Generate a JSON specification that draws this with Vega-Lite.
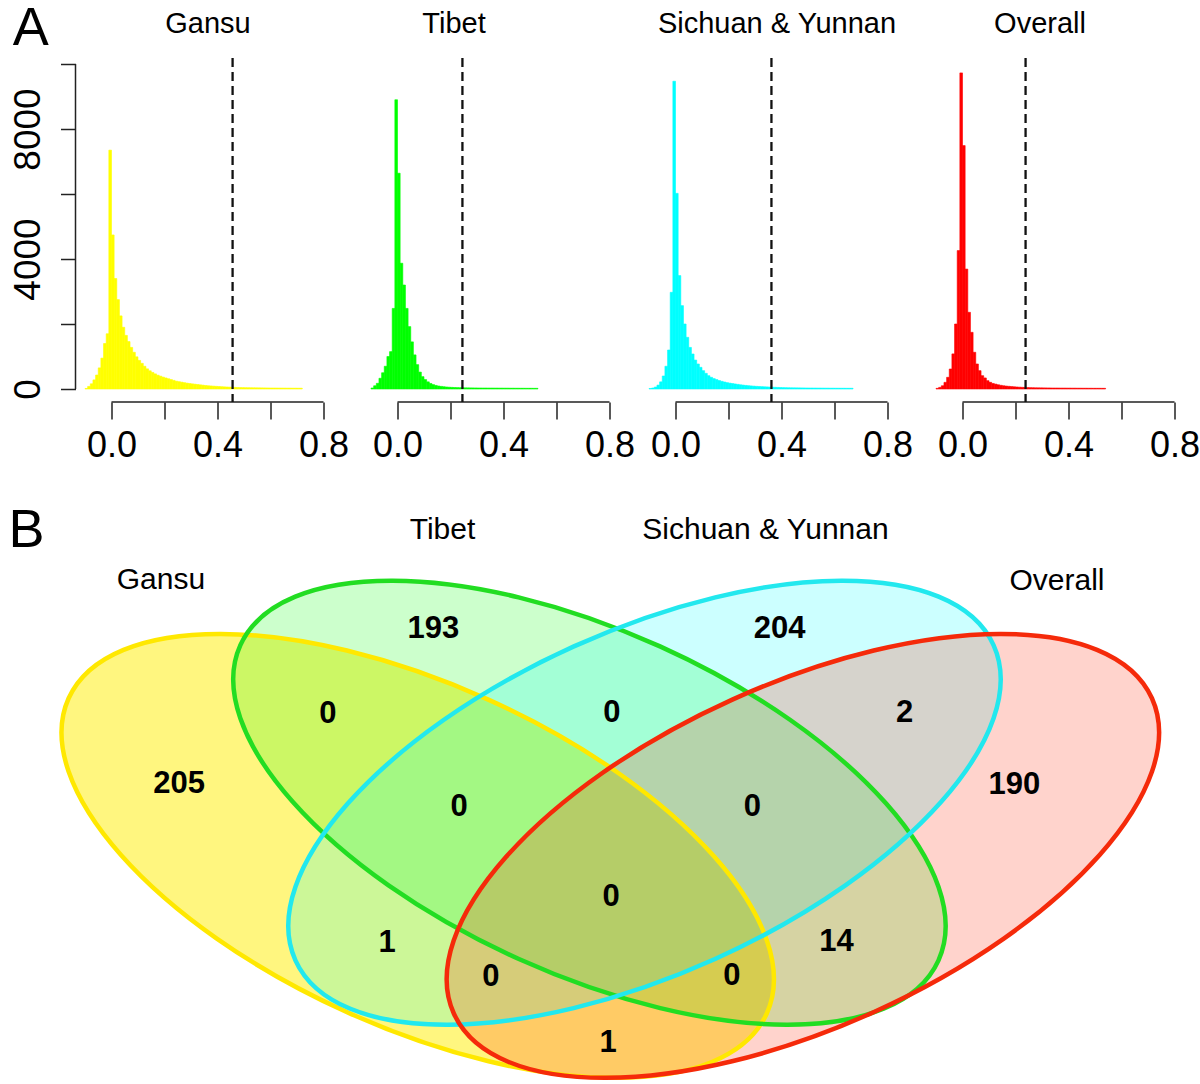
{
  "$schema": "https://vega.github.io/schema/vega-lite/v6.json",
  "padding": {"left": 7.5, "top": 1, "right": 0, "bottom": 0},
  "config": {"view": {"stroke": null}, "font": "Liberation Sans"},
  "datasets": {
    "gansu": [
      {"x0":-0.10,"x1":-0.09,"count":15},{"x0":-0.09,"x1":-0.08,"count":80},{"x0":-0.08,"x1":-0.07,"count":160},{"x0":-0.07,"x1":-0.06,"count":280},{"x0":-0.06,"x1":-0.05,"count":430},
      {"x0":-0.05,"x1":-0.04,"count":650},{"x0":-0.04,"x1":-0.03,"count":950},{"x0":-0.03,"x1":-0.02,"count":1400},{"x0":-0.02,"x1":-0.01,"count":1700},{"x0":-0.01,"x1":0,"count":7350},
      {"x0":0,"x1":0.01,"count":4740},{"x0":0.01,"x1":0.02,"count":3400},{"x0":0.02,"x1":0.03,"count":2750},{"x0":0.03,"x1":0.04,"count":2250},{"x0":0.04,"x1":0.05,"count":1900},
      {"x0":0.05,"x1":0.06,"count":1650},{"x0":0.06,"x1":0.07,"count":1460},{"x0":0.07,"x1":0.08,"count":1280},{"x0":0.08,"x1":0.09,"count":1130},{"x0":0.09,"x1":0.10,"count":990},
      {"x0":0.10,"x1":0.11,"count":880},{"x0":0.11,"x1":0.12,"count":790},{"x0":0.12,"x1":0.13,"count":700},{"x0":0.13,"x1":0.14,"count":620},{"x0":0.14,"x1":0.15,"count":560},
      {"x0":0.15,"x1":0.16,"count":510},{"x0":0.16,"x1":0.17,"count":465},{"x0":0.17,"x1":0.18,"count":425},{"x0":0.18,"x1":0.19,"count":395},{"x0":0.19,"x1":0.20,"count":365},
      {"x0":0.20,"x1":0.21,"count":340},{"x0":0.21,"x1":0.22,"count":315},{"x0":0.22,"x1":0.23,"count":290},{"x0":0.23,"x1":0.24,"count":265},{"x0":0.24,"x1":0.25,"count":240},
      {"x0":0.25,"x1":0.26,"count":225},{"x0":0.26,"x1":0.27,"count":210},{"x0":0.27,"x1":0.28,"count":195},{"x0":0.28,"x1":0.29,"count":180},{"x0":0.29,"x1":0.30,"count":168},
      {"x0":0.30,"x1":0.31,"count":158},{"x0":0.31,"x1":0.32,"count":148},{"x0":0.32,"x1":0.33,"count":138},{"x0":0.33,"x1":0.34,"count":128},{"x0":0.34,"x1":0.35,"count":118},
      {"x0":0.35,"x1":0.36,"count":108},{"x0":0.36,"x1":0.37,"count":100},{"x0":0.37,"x1":0.38,"count":94},{"x0":0.38,"x1":0.39,"count":88},{"x0":0.39,"x1":0.40,"count":82},
      {"x0":0.40,"x1":0.41,"count":76},{"x0":0.41,"x1":0.42,"count":71},{"x0":0.42,"x1":0.43,"count":66},{"x0":0.43,"x1":0.44,"count":62},{"x0":0.44,"x1":0.45,"count":58},
      {"x0":0.45,"x1":0.46,"count":54},{"x0":0.46,"x1":0.47,"count":50},{"x0":0.47,"x1":0.48,"count":47},{"x0":0.48,"x1":0.49,"count":44},{"x0":0.49,"x1":0.50,"count":42},
      {"x0":0.50,"x1":0.51,"count":40},{"x0":0.51,"x1":0.52,"count":39},{"x0":0.52,"x1":0.53,"count":38},{"x0":0.53,"x1":0.54,"count":37},{"x0":0.54,"x1":0.55,"count":36},
      {"x0":0.55,"x1":0.56,"count":35},{"x0":0.56,"x1":0.57,"count":34},{"x0":0.57,"x1":0.58,"count":33},{"x0":0.58,"x1":0.59,"count":32},{"x0":0.59,"x1":0.60,"count":31},
      {"x0":0.60,"x1":0.61,"count":30},{"x0":0.61,"x1":0.62,"count":30},{"x0":0.62,"x1":0.63,"count":29},{"x0":0.63,"x1":0.64,"count":28},{"x0":0.64,"x1":0.65,"count":28},
      {"x0":0.65,"x1":0.66,"count":27},{"x0":0.66,"x1":0.67,"count":26},{"x0":0.67,"x1":0.68,"count":26},{"x0":0.68,"x1":0.69,"count":25},{"x0":0.69,"x1":0.70,"count":25},
      {"x0":0.70,"x1":0.71,"count":24},{"x0":0.71,"x1":0.72,"count":24}
    ],
    "tibet": [
      {"x0":-0.10,"x1":-0.09,"count":30},{"x0":-0.09,"x1":-0.08,"count":100},{"x0":-0.08,"x1":-0.07,"count":175},{"x0":-0.07,"x1":-0.06,"count":330},{"x0":-0.06,"x1":-0.05,"count":500},
      {"x0":-0.05,"x1":-0.04,"count":700},{"x0":-0.04,"x1":-0.03,"count":1000},{"x0":-0.03,"x1":-0.02,"count":1150},{"x0":-0.02,"x1":-0.01,"count":2480},{"x0":-0.01,"x1":0,"count":8900},
      {"x0":0,"x1":0.01,"count":6640},{"x0":0.01,"x1":0.02,"count":3870},{"x0":0.02,"x1":0.03,"count":3200},{"x0":0.03,"x1":0.04,"count":2480},{"x0":0.04,"x1":0.05,"count":1920},
      {"x0":0.05,"x1":0.06,"count":1450},{"x0":0.06,"x1":0.07,"count":1050},{"x0":0.07,"x1":0.08,"count":750},{"x0":0.08,"x1":0.09,"count":520},{"x0":0.09,"x1":0.10,"count":380},
      {"x0":0.10,"x1":0.11,"count":290},{"x0":0.11,"x1":0.12,"count":220},{"x0":0.12,"x1":0.13,"count":170},{"x0":0.13,"x1":0.14,"count":135},{"x0":0.14,"x1":0.15,"count":110},
      {"x0":0.15,"x1":0.16,"count":92},{"x0":0.16,"x1":0.17,"count":80},{"x0":0.17,"x1":0.18,"count":70},{"x0":0.18,"x1":0.19,"count":62},{"x0":0.19,"x1":0.20,"count":55},
      {"x0":0.20,"x1":0.21,"count":50},{"x0":0.21,"x1":0.22,"count":46},{"x0":0.22,"x1":0.23,"count":43},{"x0":0.23,"x1":0.24,"count":40},{"x0":0.24,"x1":0.25,"count":38},
      {"x0":0.25,"x1":0.26,"count":36},{"x0":0.26,"x1":0.27,"count":35},{"x0":0.27,"x1":0.28,"count":34},{"x0":0.28,"x1":0.29,"count":33},{"x0":0.29,"x1":0.30,"count":32},
      {"x0":0.30,"x1":0.31,"count":31},{"x0":0.31,"x1":0.32,"count":31},{"x0":0.32,"x1":0.33,"count":30},{"x0":0.33,"x1":0.34,"count":30},{"x0":0.34,"x1":0.35,"count":29},
      {"x0":0.35,"x1":0.36,"count":29},{"x0":0.36,"x1":0.37,"count":28},{"x0":0.37,"x1":0.38,"count":28},{"x0":0.38,"x1":0.39,"count":27},{"x0":0.39,"x1":0.40,"count":27},
      {"x0":0.40,"x1":0.41,"count":26},{"x0":0.41,"x1":0.42,"count":26},{"x0":0.42,"x1":0.43,"count":25},{"x0":0.43,"x1":0.44,"count":25},{"x0":0.44,"x1":0.45,"count":24},
      {"x0":0.45,"x1":0.46,"count":24},{"x0":0.46,"x1":0.47,"count":23},{"x0":0.47,"x1":0.48,"count":23},{"x0":0.48,"x1":0.49,"count":22},{"x0":0.49,"x1":0.50,"count":22},
      {"x0":0.50,"x1":0.51,"count":22},{"x0":0.51,"x1":0.52,"count":21},{"x0":0.52,"x1":0.53,"count":21}
    ],
    "sichuan": [
      {"x0":-0.10,"x1":-0.09,"count":15},{"x0":-0.09,"x1":-0.08,"count":30},{"x0":-0.08,"x1":-0.07,"count":60},{"x0":-0.07,"x1":-0.06,"count":120},{"x0":-0.06,"x1":-0.05,"count":220},
      {"x0":-0.05,"x1":-0.04,"count":400},{"x0":-0.04,"x1":-0.03,"count":700},{"x0":-0.03,"x1":-0.02,"count":1200},{"x0":-0.02,"x1":-0.01,"count":2975},{"x0":-0.01,"x1":0,"count":9470},
      {"x0":0,"x1":0.01,"count":6020},{"x0":0.01,"x1":0.02,"count":3490},{"x0":0.02,"x1":0.03,"count":2565},{"x0":0.03,"x1":0.04,"count":2000},{"x0":0.04,"x1":0.05,"count":1590},
      {"x0":0.05,"x1":0.06,"count":1280},{"x0":0.06,"x1":0.07,"count":1077},{"x0":0.07,"x1":0.08,"count":890},{"x0":0.08,"x1":0.09,"count":770},{"x0":0.09,"x1":0.10,"count":667},
      {"x0":0.10,"x1":0.11,"count":564},{"x0":0.11,"x1":0.12,"count":482},{"x0":0.12,"x1":0.13,"count":410},{"x0":0.13,"x1":0.14,"count":360},{"x0":0.14,"x1":0.15,"count":320},
      {"x0":0.15,"x1":0.16,"count":290},{"x0":0.16,"x1":0.17,"count":260},{"x0":0.17,"x1":0.18,"count":236},{"x0":0.18,"x1":0.19,"count":215},{"x0":0.19,"x1":0.20,"count":195},
      {"x0":0.20,"x1":0.21,"count":180},{"x0":0.21,"x1":0.22,"count":168},{"x0":0.22,"x1":0.23,"count":155},{"x0":0.23,"x1":0.24,"count":142},{"x0":0.24,"x1":0.25,"count":130},
      {"x0":0.25,"x1":0.26,"count":120},{"x0":0.26,"x1":0.27,"count":110},{"x0":0.27,"x1":0.28,"count":102},{"x0":0.28,"x1":0.29,"count":95},{"x0":0.29,"x1":0.30,"count":88},
      {"x0":0.30,"x1":0.31,"count":82},{"x0":0.31,"x1":0.32,"count":77},{"x0":0.32,"x1":0.33,"count":72},{"x0":0.33,"x1":0.34,"count":68},{"x0":0.34,"x1":0.35,"count":64},
      {"x0":0.35,"x1":0.36,"count":60},{"x0":0.36,"x1":0.37,"count":56},{"x0":0.37,"x1":0.38,"count":52},{"x0":0.38,"x1":0.39,"count":48},{"x0":0.39,"x1":0.40,"count":45},
      {"x0":0.40,"x1":0.41,"count":42},{"x0":0.41,"x1":0.42,"count":40},{"x0":0.42,"x1":0.43,"count":38},{"x0":0.43,"x1":0.44,"count":37},{"x0":0.44,"x1":0.45,"count":36},
      {"x0":0.45,"x1":0.46,"count":35},{"x0":0.46,"x1":0.47,"count":34},{"x0":0.47,"x1":0.48,"count":33},{"x0":0.48,"x1":0.49,"count":32},{"x0":0.49,"x1":0.50,"count":31},
      {"x0":0.50,"x1":0.51,"count":30},{"x0":0.51,"x1":0.52,"count":30},{"x0":0.52,"x1":0.53,"count":29},{"x0":0.53,"x1":0.54,"count":28},{"x0":0.54,"x1":0.55,"count":28},
      {"x0":0.55,"x1":0.56,"count":27},{"x0":0.56,"x1":0.57,"count":26},{"x0":0.57,"x1":0.58,"count":26},{"x0":0.58,"x1":0.59,"count":25},{"x0":0.59,"x1":0.60,"count":25},
      {"x0":0.60,"x1":0.61,"count":24},{"x0":0.61,"x1":0.62,"count":24},{"x0":0.62,"x1":0.63,"count":23},{"x0":0.63,"x1":0.64,"count":23},{"x0":0.64,"x1":0.65,"count":22},
      {"x0":0.65,"x1":0.66,"count":22},{"x0":0.66,"x1":0.67,"count":22}
    ],
    "overall": [
      {"x0":-0.10,"x1":-0.09,"count":20},{"x0":-0.09,"x1":-0.08,"count":50},{"x0":-0.08,"x1":-0.07,"count":100},{"x0":-0.07,"x1":-0.06,"count":205},{"x0":-0.06,"x1":-0.05,"count":360},
      {"x0":-0.05,"x1":-0.04,"count":615},{"x0":-0.04,"x1":-0.03,"count":1080},{"x0":-0.03,"x1":-0.02,"count":2000},{"x0":-0.02,"x1":-0.01,"count":4260},{"x0":-0.01,"x1":0,"count":9727},
      {"x0":0,"x1":0.01,"count":7490},{"x0":0.01,"x1":0.02,"count":3690},{"x0":0.02,"x1":0.03,"count":2360},{"x0":0.03,"x1":0.04,"count":1744},{"x0":0.04,"x1":0.05,"count":1130},
      {"x0":0.05,"x1":0.06,"count":770},{"x0":0.06,"x1":0.07,"count":564},{"x0":0.07,"x1":0.08,"count":410},{"x0":0.08,"x1":0.09,"count":340},{"x0":0.09,"x1":0.10,"count":256},
      {"x0":0.10,"x1":0.11,"count":205},{"x0":0.11,"x1":0.12,"count":170},{"x0":0.12,"x1":0.13,"count":150},{"x0":0.13,"x1":0.14,"count":130},{"x0":0.14,"x1":0.15,"count":113},
      {"x0":0.15,"x1":0.16,"count":100},{"x0":0.16,"x1":0.17,"count":90},{"x0":0.17,"x1":0.18,"count":82},{"x0":0.18,"x1":0.19,"count":75},{"x0":0.19,"x1":0.20,"count":68},
      {"x0":0.20,"x1":0.21,"count":62},{"x0":0.21,"x1":0.22,"count":56},{"x0":0.22,"x1":0.23,"count":51},{"x0":0.23,"x1":0.24,"count":47},{"x0":0.24,"x1":0.25,"count":44},
      {"x0":0.25,"x1":0.26,"count":41},{"x0":0.26,"x1":0.27,"count":39},{"x0":0.27,"x1":0.28,"count":37},{"x0":0.28,"x1":0.29,"count":36},{"x0":0.29,"x1":0.30,"count":35},
      {"x0":0.30,"x1":0.31,"count":34},{"x0":0.31,"x1":0.32,"count":33},{"x0":0.32,"x1":0.33,"count":32},{"x0":0.33,"x1":0.34,"count":31},{"x0":0.34,"x1":0.35,"count":30},
      {"x0":0.35,"x1":0.36,"count":30},{"x0":0.36,"x1":0.37,"count":29},{"x0":0.37,"x1":0.38,"count":28},{"x0":0.38,"x1":0.39,"count":28},{"x0":0.39,"x1":0.40,"count":27},
      {"x0":0.40,"x1":0.41,"count":27},{"x0":0.41,"x1":0.42,"count":26},{"x0":0.42,"x1":0.43,"count":26},{"x0":0.43,"x1":0.44,"count":25},{"x0":0.44,"x1":0.45,"count":25},
      {"x0":0.45,"x1":0.46,"count":24},{"x0":0.46,"x1":0.47,"count":24},{"x0":0.47,"x1":0.48,"count":23},{"x0":0.48,"x1":0.49,"count":23},{"x0":0.49,"x1":0.50,"count":22},
      {"x0":0.50,"x1":0.51,"count":22},{"x0":0.51,"x1":0.52,"count":22},{"x0":0.52,"x1":0.53,"count":21},{"x0":0.53,"x1":0.54,"count":21}
    ],
    "thresholds": [
      {"region": "Gansu", "value": 0.457},
      {"region": "Tibet", "value": 0.245},
      {"region": "Sichuan & Yunnan", "value": 0.362},
      {"region": "Overall", "value": 0.238}
    ],
    "ellipses": [
      {"set": "Gansu", "u": 0.3083, "v": 0.3923},
      {"set": "Tibet", "u": 0.4630, "v": 0.4834},
      {"set": "Sichuan & Yunnan", "u": 0.5126, "v": 0.4834},
      {"set": "Overall", "u": 0.6553, "v": 0.3923}
    ],
    "setLabels": [
      {"set": "Gansu", "u": 0.0770, "v": 0.8639},
      {"set": "Tibet", "u": 0.3306, "v": 0.9507},
      {"set": "Sichuan & Yunnan", "u": 0.6216, "v": 0.9495},
      {"set": "Overall", "u": 0.8842, "v": 0.8622}
    ],
    "regions": [
      {"sets": "Gansu", "count": 205, "u": 0.0934, "v": 0.5154},
      {"sets": "Tibet", "count": 193, "u": 0.3225, "v": 0.7808},
      {"sets": "Sichuan & Yunnan", "count": 204, "u": 0.6343, "v": 0.7808},
      {"sets": "Overall", "count": 190, "u": 0.8459, "v": 0.5137},
      {"sets": "Gansu, Tibet", "count": 0, "u": 0.2274, "v": 0.6353},
      {"sets": "Tibet, Sichuan & Yunnan", "count": 0, "u": 0.4833, "v": 0.6365},
      {"sets": "Sichuan & Yunnan, Overall", "count": 2, "u": 0.7470, "v": 0.6365},
      {"sets": "Gansu, Tibet, Sichuan & Yunnan", "count": 0, "u": 0.3457, "v": 0.4765},
      {"sets": "Tibet, Sichuan & Yunnan, Overall", "count": 0, "u": 0.6099, "v": 0.4765},
      {"sets": "All four", "count": 0, "u": 0.4826, "v": 0.3212},
      {"sets": "Gansu, Sichuan & Yunnan", "count": 1, "u": 0.2808, "v": 0.2435},
      {"sets": "Tibet, Overall", "count": 14, "u": 0.6856, "v": 0.2454},
      {"sets": "Gansu, Sichuan & Yunnan, Overall", "count": 0, "u": 0.3741, "v": 0.1853},
      {"sets": "Gansu, Tibet, Overall", "count": 0, "u": 0.5913, "v": 0.1872},
      {"sets": "Gansu, Overall", "count": 1, "u": 0.4799, "v": 0.0719}
    ]
  },
  "bounds": "full",
  "spacing": 38,
  "vconcat": [
    {
      "bounds": "flush",
      "spacing": 26,
      "hconcat": [
        {
          "width": 258, "height": 344,
          "layer": [
            {
              "data": {"name": "gansu"},
              "mark": {"type": "rect", "fill": "#FFFF00", "stroke": "#FFFF00", "strokeWidth": 0.6},
              "encoding": {
                "x": {"field": "x0", "type": "quantitative", "scale": {"domain": [-0.1358, 0.8378], "nice": false, "zero": false},
                  "axis": {"values": [0, 0.2, 0.4, 0.6, 0.8], "format": ".1f", "labelExpr": "abs(datum.value - 0.2) < 0.01 || abs(datum.value - 0.6) < 0.01 ? '' : datum.label", "domain": false, "grid": false, "tickSize": 17, "tickWidth": 1.5, "tickColor": "#222", "labelFontSize": 36, "labelColor": "#000", "labelPadding": 9, "labelFlush": false, "labelOverlap": false,
                    "title": "A", "titleAngle": 0, "titleX": -63.3, "titleY": -358, "titleAlign": "left", "titleBaseline": "alphabetic", "titleFontSize": 54, "titleFontWeight": "normal", "titleColor": "#000"}},
                "x2": {"field": "x1"},
                "y": {"field": "count", "type": "quantitative", "scale": {"domain": [-400, 10185], "nice": false, "zero": false},
                  "axis": {"values": [0, 2000, 4000, 6000, 8000, 10000], "format": "d", "labelExpr": "datum.value % 4000 === 0 ? datum.label : ''", "domain": false, "grid": false, "tickSize": 15, "tickWidth": 1.5, "tickColor": "#222", "labelAngle": 270, "labelFontSize": 37, "labelColor": "#000", "labelPadding": 13, "labelFlush": false, "labelOverlap": false,
                    "title": "Gansu", "titleAngle": 0, "titleX": 132, "titleY": -26, "titleAlign": "center", "titleBaseline": "alphabetic", "titleFontSize": 29, "titleFontWeight": "normal", "titleColor": "#000"}},
                "y2": {"datum": 0}
              }
            },
            {
              "data": {"name": "thresholds"},
              "transform": [{"filter": "datum.region === 'Gansu'"}],
              "layer": [
                {"mark": {"type": "rule", "color": "#222", "strokeWidth": 1.5}, "encoding": {"x": {"datum": 0}, "x2": {"datum": 0.8}, "y": {"datum": -400}}},
                {"mark": {"type": "rule", "color": "#222", "strokeWidth": 1.5}, "encoding": {"x": {"datum": -0.1358}, "y": {"datum": 0}, "y2": {"datum": 10000}}},
                {"mark": {"type": "rule", "color": "#111", "strokeWidth": 2.3, "strokeDash": [9, 5]}, "encoding": {"x": {"field": "value", "type": "quantitative"}}}
              ]
            }
          ]
        },
        {
          "width": 258, "height": 344,
          "layer": [
            {
              "data": {"name": "tibet"},
              "mark": {"type": "rect", "fill": "#00FF00", "stroke": "#00FF00", "strokeWidth": 0.6},
              "encoding": {
                "x": {"field": "x0", "type": "quantitative", "scale": {"domain": [-0.1434, 0.8302], "nice": false, "zero": false},
                  "axis": {"values": [0, 0.2, 0.4, 0.6, 0.8], "format": ".1f", "labelExpr": "abs(datum.value - 0.2) < 0.01 || abs(datum.value - 0.6) < 0.01 ? '' : datum.label", "domain": false, "grid": false, "tickSize": 17, "tickWidth": 1.5, "tickColor": "#222", "labelFontSize": 36, "labelColor": "#000", "labelPadding": 9, "labelFlush": false, "labelOverlap": false, "title": null}},
                "x2": {"field": "x1"},
                "y": {"field": "count", "type": "quantitative", "scale": {"domain": [-400, 10185], "nice": false, "zero": false},
                  "axis": {"domain": false, "ticks": false, "labels": false, "grid": false,
                    "title": "Tibet", "titleAngle": 0, "titleX": 94, "titleY": -26, "titleAlign": "center", "titleBaseline": "alphabetic", "titleFontSize": 29, "titleFontWeight": "normal", "titleColor": "#000"}},
                "y2": {"datum": 0}
              }
            },
            {
              "data": {"name": "thresholds"},
              "transform": [{"filter": "datum.region === 'Tibet'"}],
              "layer": [
                {"mark": {"type": "rule", "color": "#222", "strokeWidth": 1.5}, "encoding": {"x": {"datum": 0}, "x2": {"datum": 0.8}, "y": {"datum": -400}}},
                {"mark": {"type": "rule", "color": "#111", "strokeWidth": 2.3, "strokeDash": [9, 5]}, "encoding": {"x": {"field": "value", "type": "quantitative"}}}
              ]
            }
          ]
        },
        {
          "width": 258, "height": 344,
          "layer": [
            {
              "data": {"name": "sichuan"},
              "mark": {"type": "rect", "fill": "#00FFFF", "stroke": "#00FFFF", "strokeWidth": 0.6},
              "encoding": {
                "x": {"field": "x0", "type": "quantitative", "scale": {"domain": [-0.1208, 0.8528], "nice": false, "zero": false},
                  "axis": {"values": [0, 0.2, 0.4, 0.6, 0.8], "format": ".1f", "labelExpr": "abs(datum.value - 0.2) < 0.01 || abs(datum.value - 0.6) < 0.01 ? '' : datum.label", "domain": false, "grid": false, "tickSize": 17, "tickWidth": 1.5, "tickColor": "#222", "labelFontSize": 36, "labelColor": "#000", "labelPadding": 9, "labelFlush": false, "labelOverlap": false, "title": null}},
                "x2": {"field": "x1"},
                "y": {"field": "count", "type": "quantitative", "scale": {"domain": [-400, 10185], "nice": false, "zero": false},
                  "axis": {"domain": false, "ticks": false, "labels": false, "grid": false,
                    "title": "Sichuan & Yunnan", "titleAngle": 0, "titleX": 133, "titleY": -26, "titleAlign": "center", "titleBaseline": "alphabetic", "titleFontSize": 29, "titleFontWeight": "normal", "titleColor": "#000"}},
                "y2": {"datum": 0}
              }
            },
            {
              "data": {"name": "thresholds"},
              "transform": [{"filter": "datum.region === 'Sichuan & Yunnan'"}],
              "layer": [
                {"mark": {"type": "rule", "color": "#222", "strokeWidth": 1.5}, "encoding": {"x": {"datum": 0}, "x2": {"datum": 0.8}, "y": {"datum": -400}}},
                {"mark": {"type": "rule", "color": "#111", "strokeWidth": 2.3, "strokeDash": [9, 5]}, "encoding": {"x": {"field": "value", "type": "quantitative"}}}
              ]
            }
          ]
        },
        {
          "width": 258, "height": 344,
          "layer": [
            {
              "data": {"name": "overall"},
              "mark": {"type": "rect", "fill": "#FF0000", "stroke": "#FF0000", "strokeWidth": 0.6},
              "encoding": {
                "x": {"field": "x0", "type": "quantitative", "scale": {"domain": [-0.1321, 0.8415], "nice": false, "zero": false},
                  "axis": {"values": [0, 0.2, 0.4, 0.6, 0.8], "format": ".1f", "labelExpr": "abs(datum.value - 0.2) < 0.01 || abs(datum.value - 0.6) < 0.01 ? '' : datum.label", "domain": false, "grid": false, "tickSize": 17, "tickWidth": 1.5, "tickColor": "#222", "labelFontSize": 36, "labelColor": "#000", "labelPadding": 9, "labelFlush": false, "labelOverlap": false, "title": null}},
                "x2": {"field": "x1"},
                "y": {"field": "count", "type": "quantitative", "scale": {"domain": [-400, 10185], "nice": false, "zero": false},
                  "axis": {"domain": false, "ticks": false, "labels": false, "grid": false,
                    "title": "Overall", "titleAngle": 0, "titleX": 112, "titleY": -26, "titleAlign": "center", "titleBaseline": "alphabetic", "titleFontSize": 29, "titleFontWeight": "normal", "titleColor": "#000"}},
                "y2": {"datum": 0}
              }
            },
            {
              "data": {"name": "thresholds"},
              "transform": [{"filter": "datum.region === 'Overall'"}],
              "layer": [
                {"mark": {"type": "rule", "color": "#222", "strokeWidth": 1.5}, "encoding": {"x": {"datum": 0}, "x2": {"datum": 0.8}, "y": {"datum": -400}}},
                {"mark": {"type": "rule", "color": "#111", "strokeWidth": 2.3, "strokeDash": [9, 5]}, "encoding": {"x": {"field": "value", "type": "quantitative"}}}
              ]
            }
          ]
        }
      ]
    },
    {
      "width": 1110, "height": 584,
      "encoding": {
        "x": {"field": "u", "type": "quantitative", "scale": {"domain": [0, 1], "nice": false, "zero": false}, "axis": null},
        "y": {"field": "v", "type": "quantitative", "scale": {"domain": [0, 1], "nice": false, "zero": false},
          "axis": {"domain": false, "ticks": false, "labels": false, "grid": false, "title": "B", "titleAngle": 0, "titleX": -67.5, "titleY": 45, "titleAlign": "left", "titleBaseline": "alphabetic", "titleFontSize": 54, "titleFontWeight": "normal", "titleColor": "#000"}}
      },
      "layer": [
        {"data": {"name": "ellipses"}, "transform": [{"filter": "datum.set === 'Gansu'"}],
         "mark": {"type": "point", "shape": "M 1 0 C 1 0.2473 0.5523 0.4478 0 0.4478 C -0.5523 0.4478 -1 0.2473 -1 0 C -1 -0.2473 -0.5523 -0.4478 0 -0.4478 C 0.5523 -0.4478 1 -0.2473 1 0 Z", "size": 586756, "angle": 24.3, "filled": true, "fill": "#FFEE00", "fillOpacity": 0.5, "strokeWidth": 0, "opacity": 1}},
        {"data": {"name": "ellipses"}, "transform": [{"filter": "datum.set === 'Tibet'"}],
         "mark": {"type": "point", "shape": "M 1 0 C 1 0.2473 0.5523 0.4478 0 0.4478 C -0.5523 0.4478 -1 0.2473 -1 0 C -1 -0.2473 -0.5523 -0.4478 0 -0.4478 C 0.5523 -0.4478 1 -0.2473 1 0 Z", "size": 586756, "angle": 24.3, "filled": true, "fill": "#00FF00", "fillOpacity": 0.2, "strokeWidth": 0, "opacity": 1}},
        {"data": {"name": "ellipses"}, "transform": [{"filter": "datum.set === 'Sichuan & Yunnan'"}],
         "mark": {"type": "point", "shape": "M 1 0 C 1 0.2473 0.5523 0.4478 0 0.4478 C -0.5523 0.4478 -1 0.2473 -1 0 C -1 -0.2473 -0.5523 -0.4478 0 -0.4478 C 0.5523 -0.4478 1 -0.2473 1 0 Z", "size": 586756, "angle": 335.7, "filled": true, "fill": "#00FFFF", "fillOpacity": 0.2, "strokeWidth": 0, "opacity": 1}},
        {"data": {"name": "ellipses"}, "transform": [{"filter": "datum.set === 'Overall'"}],
         "mark": {"type": "point", "shape": "M 1 0 C 1 0.2473 0.5523 0.4478 0 0.4478 C -0.5523 0.4478 -1 0.2473 -1 0 C -1 -0.2473 -0.5523 -0.4478 0 -0.4478 C 0.5523 -0.4478 1 -0.2473 1 0 Z", "size": 586756, "angle": 335.7, "filled": true, "fill": "#FF2200", "fillOpacity": 0.2, "strokeWidth": 0, "opacity": 1}},
        {"data": {"name": "ellipses"}, "transform": [{"filter": "datum.set === 'Gansu'"}],
         "mark": {"type": "point", "shape": "M 1 0 C 1 0.2473 0.5523 0.4478 0 0.4478 C -0.5523 0.4478 -1 0.2473 -1 0 C -1 -0.2473 -0.5523 -0.4478 0 -0.4478 C 0.5523 -0.4478 1 -0.2473 1 0 Z", "size": 586756, "angle": 24.3, "filled": false, "stroke": "#FFE800", "strokeWidth": 4.5, "opacity": 1}},
        {"data": {"name": "ellipses"}, "transform": [{"filter": "datum.set === 'Tibet'"}],
         "mark": {"type": "point", "shape": "M 1 0 C 1 0.2473 0.5523 0.4478 0 0.4478 C -0.5523 0.4478 -1 0.2473 -1 0 C -1 -0.2473 -0.5523 -0.4478 0 -0.4478 C 0.5523 -0.4478 1 -0.2473 1 0 Z", "size": 586756, "angle": 24.3, "filled": false, "stroke": "#22DD22", "strokeWidth": 4.5, "opacity": 1}},
        {"data": {"name": "ellipses"}, "transform": [{"filter": "datum.set === 'Sichuan & Yunnan'"}],
         "mark": {"type": "point", "shape": "M 1 0 C 1 0.2473 0.5523 0.4478 0 0.4478 C -0.5523 0.4478 -1 0.2473 -1 0 C -1 -0.2473 -0.5523 -0.4478 0 -0.4478 C 0.5523 -0.4478 1 -0.2473 1 0 Z", "size": 586756, "angle": 335.7, "filled": false, "stroke": "#22E8EE", "strokeWidth": 4.5, "opacity": 1}},
        {"data": {"name": "ellipses"}, "transform": [{"filter": "datum.set === 'Overall'"}],
         "mark": {"type": "point", "shape": "M 1 0 C 1 0.2473 0.5523 0.4478 0 0.4478 C -0.5523 0.4478 -1 0.2473 -1 0 C -1 -0.2473 -0.5523 -0.4478 0 -0.4478 C 0.5523 -0.4478 1 -0.2473 1 0 Z", "size": 586756, "angle": 335.7, "filled": false, "stroke": "#F52A0A", "strokeWidth": 4.5, "opacity": 1}},
        {"data": {"name": "setLabels"},
         "mark": {"type": "text", "fontSize": 30, "color": "#000", "align": "center", "baseline": "middle"},
         "encoding": {"text": {"field": "set"}}},
        {"data": {"name": "regions"},
         "mark": {"type": "text", "fontSize": 31, "fontWeight": "bold", "color": "#000", "align": "center", "baseline": "middle"},
         "encoding": {"text": {"field": "count", "type": "quantitative"}}}
      ]
    }
  ]
}
